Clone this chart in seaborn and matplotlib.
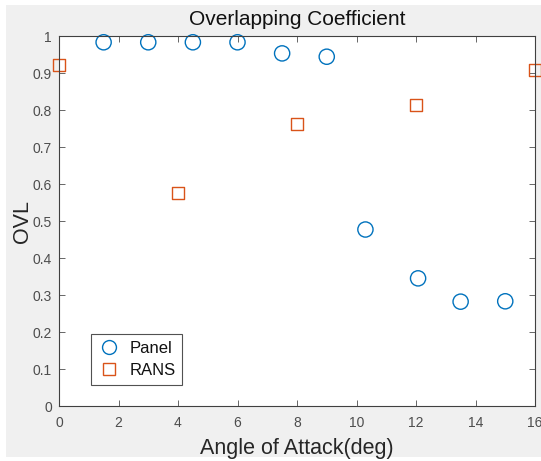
import matplotlib
matplotlib.use("Agg")
import matplotlib.pyplot as plt
import seaborn as sns
import pandas as pd
import numpy as np
from matplotlib.lines import Line2D
from matplotlib.patches import Rectangle

panel_x = [1.5, 3.0, 4.5, 6.0, 7.5, 9.0, 10.3, 12.07, 13.5, 15.0]
panel_y = [0.983, 0.983, 0.983, 0.983, 0.953, 0.944, 0.477, 0.345, 0.282, 0.283]
rans_x = [0.0, 4.0, 8.0, 12.0, 16.0]
rans_y = [0.921, 0.576, 0.761, 0.814, 0.907]

df = pd.concat([
    pd.DataFrame({"x": panel_x, "y": panel_y, "Method": "Panel"}),
    pd.DataFrame({"x": rans_x, "y": rans_y, "Method": "RANS"}),
])

sns.set_style("white")
plt.rcParams['font.family'] = ['Liberation Sans', 'DejaVu Sans']

W, H = 541, 461
fig = plt.figure(figsize=(W/100, H/100), dpi=100, facecolor="white")
fig.patches.append(Rectangle((6/W, 4/H), 1.0, 1.0 - 9/H, transform=fig.transFigure,
                             facecolor="#f0f0f0", edgecolor="none", zorder=-10))
ax = fig.add_axes([59/W, 1-406/H, 476/W, 370/H])
ax.set_facecolor("white")

blue = "#0072BD"
orange = "#D95319"
sns.scatterplot(data=df, x="x", y="y", hue="Method", style="Method",
                markers={"Panel": "o", "RANS": "s"},
                palette={"Panel": blue, "RANS": orange}, ax=ax, legend=False,
                clip_on=False)
coll = ax.collections[0]
fc = coll.get_facecolors()
coll.set_edgecolors(fc)
coll.set_facecolors("none")
coll.set_linewidth(1.0)
sizes = np.array([120 if m == "Panel" else 75 for m in df["Method"]])
coll.set_sizes(sizes)

ax.set_xlim(0, 16)
ax.set_ylim(0, 1)
ax.set_xticks(range(0, 17, 2))
ax.set_yticks([i/10 for i in range(11)])
ax.set_yticklabels(["0"] + [f"{i/10:g}" for i in range(1, 10)] + ["1"])
ax.tick_params(direction="in", length=4, width=0.6, labelsize=10, colors="#4d4d4d",
               labelcolor="#4d4d4d", top=True, right=True, bottom=True, left=True, pad=5)
ax.tick_params(axis="x", pad=7)
for s in ax.spines.values():
    s.set_visible(True)
    s.set_color("#404040")
    s.set_linewidth(0.8)
ax.set_xlabel("Angle of Attack(deg)", fontsize=15.5, color="#262626", labelpad=6)
ax.set_ylabel("OVL", fontsize=15.5, color="#262626", labelpad=0)
ax.set_title("Overlapping Coefficient", fontsize=15, color="#111111", pad=8)

handles = [Line2D([], [], ls="none", marker="o", mfc="none", mec=blue, ms=10, mew=1.0),
           Line2D([], [], ls="none", marker="s", mfc="none", mec=orange, ms=8, mew=1.0)]
leg = ax.legend(handles, ["Panel", "RANS"], loc="lower left", bbox_to_anchor=(0.067, 0.057),
                fontsize=12, frameon=True, fancybox=False, borderaxespad=0,
                handletextpad=0.5, handlelength=1.4, labelspacing=0.45, borderpad=0.4)
leg.get_frame().set_edgecolor("#262626")
leg.get_frame().set_linewidth(0.8)
for t in leg.get_texts():
    t.set_color("#111111")

fig.savefig("out.png", dpi=100, facecolor=fig.get_facecolor())
